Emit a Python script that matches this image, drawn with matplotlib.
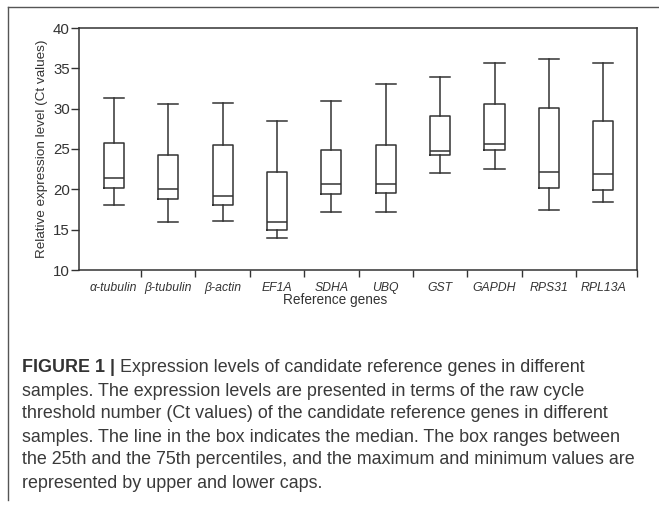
import matplotlib
matplotlib.use("Agg")
import matplotlib.pyplot as plt
from matplotlib.lines import Line2D

genes = ["α-tubulin", "β-tubulin", "β-actin", "EF1A", "SDHA",
         "UBQ", "GST", "GAPDH", "RPS31", "RPL13A"]
ct_max = [31.3, 30.6, 30.7, 28.5, 30.9, 33.1, 33.9, 35.7, 36.1, 35.7]
ct_q3 = [25.7, 24.3, 25.5, 22.2, 24.9, 25.5, 29.1, 30.6, 30.1, 28.5]
ct_med = [21.4, 20.1, 19.2, 15.9, 20.6, 20.7, 24.7, 25.6, 22.1, 21.9]
ct_q1 = [20.2, 18.8, 18.0, 14.9, 19.4, 19.6, 24.3, 24.9, 20.2, 19.9]
ct_min = [18.0, 15.9, 16.1, 14.0, 17.2, 17.2, 22.0, 22.5, 17.5, 18.4]

caption = [
    "Expression levels of candidate reference genes in different",
    "samples. The expression levels are presented in terms of the raw cycle",
    "threshold number (Ct values) of the candidate reference genes in different",
    "samples. The line in the box indicates the median. The box ranges between",
    "the 25th and the 75th percentiles, and the maximum and minimum values are",
    "represented by upper and lower caps.",
]

dark = "#333333"
plt.rcParams["font.family"] = ["Liberation Sans", "DejaVu Sans"]

fig = plt.figure(figsize=(6.59, 5.07), dpi=100)
ax = fig.add_axes([79 / 659, 1 - 270 / 507, 558 / 659, 242 / 507])

stats = []
for i, g in enumerate(genes):
    stats.append({"label": g, "whislo": ct_min[i], "q1": ct_q1[i], "med": ct_med[i],
                  "q3": ct_q3[i], "whishi": ct_max[i], "fliers": []})

line = dict(color=dark, linewidth=1.1)
ax.bxp(stats, positions=range(1, len(genes) + 1), widths=0.37, showfliers=False,
       boxprops=line, medianprops=line, whiskerprops=line, capprops=line,
       capwidths=0.37)

ax.set_xlim(0.36, 10.62)
ax.set_ylim(10, 40)
ax.set_yticks(range(10, 41, 5))
ax.set_xticks(range(1, len(genes) + 1))
ax.set_xticklabels(genes, fontstyle="italic", fontsize=8.8)
ax.set_xticks([i + 0.5 for i in range(1, 10)] + [10.62], minor=True)
ax.tick_params(axis="x", which="major", length=0, pad=8.5, colors=dark)
ax.tick_params(axis="x", which="minor", length=5, width=1, direction="out", color=dark)
ax.tick_params(axis="y", length=5.5, width=1, pad=1, labelsize=10.8, colors=dark)
for s in ax.spines.values():
    s.set_color(dark)
    s.set_linewidth(1.1)

ax.set_xlabel("Reference genes", fontsize=9.8, color=dark)
ax.xaxis.set_label_coords((335 - 79) / 558, -23 / 242)
ax.set_ylabel("Relative expression level (Ct values)", fontsize=9.7, color=dark, labelpad=4)

# frame lines around the panel (top and left)
fig.add_artist(Line2D([8 / 659, 1], [1 - 7 / 507, 1 - 7 / 507], color="#555555", lw=1))
fig.add_artist(Line2D([8 / 659, 8 / 659], [1 - 7 / 507, 1 - 500 / 507], color="#555555", lw=1))

# caption
fig.canvas.draw()
renderer = fig.canvas.get_renderer()
x0 = 22 / 659
y0 = 368
fs = 12.9
head = fig.text(x0, 1 - y0 / 507, "FIGURE 1 | ", fontsize=fs, fontweight="bold",
                color=dark, va="center")
w = head.get_window_extent(renderer).width / fig.bbox.width
for k, txt in enumerate(caption):
    xx = x0 + w if k == 0 else x0
    fig.text(xx, 1 - (y0 + 23 * k) / 507, txt, fontsize=fs, color="#3a3a3a", va="center")

fig.savefig("out.png", dpi=100)
